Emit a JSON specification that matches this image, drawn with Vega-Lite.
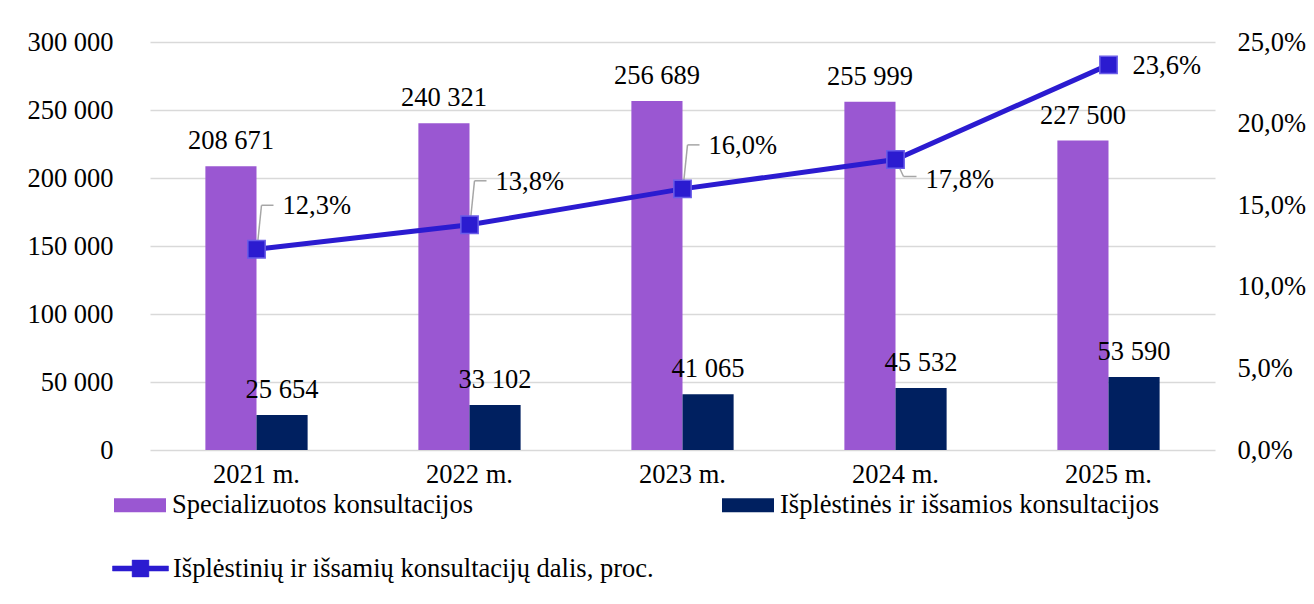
{
  "$schema": "https://vega.github.io/schema/vega-lite/v6.json",
  "autosize": {"type": "none"},
  "width": 1065,
  "height": 408,
  "padding": {"left": 150, "top": 42, "right": 99, "bottom": 154},
  "background": "white",
  "config": {
    "font": "Liberation Serif",
    "view": {"stroke": null},
    "locale": {"number": {"decimal": ",", "thousands": " ", "grouping": [3], "currency": ["", ""]}},
    "axis": {"labelFont": "Liberation Serif", "labelFontSize": 26.5, "labelColor": "#000000", "domain": false, "ticks": false, "title": null},
    "legend": {"labelFont": "Liberation Serif", "labelFontSize": 26.5, "labelColor": "#000000", "title": null}
  },
  "datasets": {
    "bars": [
      {"year": "2021 m.", "series": "Specializuotos konsultacijos", "value": 208671},
      {"year": "2021 m.", "series": "Išplėstinės ir išsamios konsultacijos", "value": 25654},
      {"year": "2022 m.", "series": "Specializuotos konsultacijos", "value": 240321},
      {"year": "2022 m.", "series": "Išplėstinės ir išsamios konsultacijos", "value": 33102},
      {"year": "2023 m.", "series": "Specializuotos konsultacijos", "value": 256689},
      {"year": "2023 m.", "series": "Išplėstinės ir išsamios konsultacijos", "value": 41065},
      {"year": "2024 m.", "series": "Specializuotos konsultacijos", "value": 255999},
      {"year": "2024 m.", "series": "Išplėstinės ir išsamios konsultacijos", "value": 45532},
      {"year": "2025 m.", "series": "Specializuotos konsultacijos", "value": 227500},
      {"year": "2025 m.", "series": "Išplėstinės ir išsamios konsultacijos", "value": 53590}
    ],
    "share": [
      {"year": "2021 m.", "pct": 0.123},
      {"year": "2022 m.", "pct": 0.138},
      {"year": "2023 m.", "pct": 0.160},
      {"year": "2024 m.", "pct": 0.178},
      {"year": "2025 m.", "pct": 0.236}
    ]
  },
  "resolve": {"scale": {"y": "independent"}},
  "layer": [
    {
      "data": {"name": "bars"},
      "encoding": {
        "x": {"field": "year", "type": "nominal", "sort": null,
              "scale": {"paddingInner": 0.52, "paddingOuter": 0.26},
              "axis": {"labelAngle": 0, "labelPadding": 11, "grid": false}},
        "xOffset": {"field": "series", "type": "nominal",
                    "sort": ["Specializuotos konsultacijos", "Išplėstinės ir išsamios konsultacijos"],
                    "scale": {"paddingInner": 0, "paddingOuter": 0}},
        "y": {"field": "value", "type": "quantitative",
              "scale": {"domain": [0, 300000], "nice": false},
              "axis": {"values": [0, 50000, 100000, 150000, 200000, 250000, 300000], "format": ",.0f",
                       "grid": true, "gridColor": "#d9d9d9", "gridWidth": 1.3, "labelPadding": 37, "orient": "left"}}
      },
      "layer": [
        {
          "mark": {"type": "bar"},
          "encoding": {
            "fill": {"field": "series", "type": "nominal",
                     "sort": ["Specializuotos konsultacijos", "Išplėstinės ir išsamios konsultacijos"],
                     "scale": {"domain": ["Specializuotos konsultacijos", "Išplėstinės ir išsamios konsultacijos"], "range": ["#9A57D2", "#002060"]},
                     "legend": {"orient": "none", "legendX": -36, "legendY": 437, "direction": "horizontal", "columns": 2,
                                "columnPadding": 248, "symbolType": "M-1,-0.27H1V0.27H-1Z", "symbolSize": 2704,
                                "symbolStrokeWidth": 0, "labelOffset": 6, "labelLimit": 700}}
          }
        },
        {
          "mark": {"type": "text", "baseline": "alphabetic", "dy": -17, "fontSize": 26.5, "font": "Liberation Serif", "color": "#000000"},
          "encoding": {
            "text": {"field": "value", "type": "quantitative", "format": ",.0f"}
          }
        }
      ]
    },
    {
      "data": {"name": "share"},
      "encoding": {
        "x": {"field": "year", "type": "nominal", "sort": null},
        "y": {"field": "pct", "type": "quantitative",
              "scale": {"domain": [0, 0.25], "nice": false},
              "axis": {"orient": "right", "values": [0, 0.05, 0.1, 0.15, 0.2, 0.25], "format": ".1%", "grid": false, "labelPadding": 22}}
      },
      "layer": [
        {
          "transform": [{"filter": {"field": "year", "oneOf": ["2021 m.", "2022 m.", "2023 m."]}}],
          "mark": {"type": "rule", "color": "#a6a6a6", "strokeWidth": 1.5, "xOffset": 1, "yOffset": -5, "x2Offset": 5, "y2Offset": -44},
          "encoding": {"x2": {"field": "year"}, "y2": {"field": "pct"}}
        },
        {
          "transform": [{"filter": {"field": "year", "oneOf": ["2021 m.", "2022 m.", "2023 m."]}}],
          "mark": {"type": "rule", "color": "#a6a6a6", "strokeWidth": 1.5, "xOffset": 5, "yOffset": -44, "x2Offset": 17, "y2Offset": -44},
          "encoding": {"x2": {"field": "year"}, "y2": {"field": "pct"}}
        },
        {
          "transform": [{"filter": {"field": "year", "equal": "2024 m."}}],
          "mark": {"type": "rule", "color": "#a6a6a6", "strokeWidth": 1.5, "xOffset": 2, "yOffset": 4, "x2Offset": 8, "y2Offset": 17},
          "encoding": {"x2": {"field": "year"}, "y2": {"field": "pct"}}
        },
        {
          "transform": [{"filter": {"field": "year", "equal": "2024 m."}}],
          "mark": {"type": "rule", "color": "#a6a6a6", "strokeWidth": 1.5, "xOffset": 8, "yOffset": 17, "x2Offset": 21, "y2Offset": 17},
          "encoding": {"x2": {"field": "year"}, "y2": {"field": "pct"}}
        },
        {
          "mark": {"type": "line", "strokeWidth": 5},
          "encoding": {
            "stroke": {"datum": "Išplėstinių ir išsamių konsultacijų dalis, proc.",
                       "scale": {"range": ["#2B1BD0"]},
                       "legend": {"orient": "none", "legendX": -38, "legendY": 498,
                                  "symbolType": "M-1,-0.09H-0.3V-0.3H0.3V-0.09H1V0.09H0.3V0.3H-0.3V0.09H-1Z",
                                  "symbolSize": 3136, "symbolFillColor": "#2B1BD0", "symbolStrokeColor": "#2B1BD0", "symbolStrokeWidth": 0.5,
                                  "labelOffset": 4, "labelLimit": 800}}
          }
        },
        {
          "mark": {"type": "point", "shape": "square", "filled": true, "size": 300, "fill": "#2B1BD0", "stroke": "#6A5CE8", "strokeWidth": 1.5, "opacity": 1},
          "encoding": {}
        },
        {
          "transform": [{"filter": {"field": "year", "oneOf": ["2021 m.", "2022 m.", "2023 m."]}}],
          "mark": {"type": "text", "align": "left", "baseline": "middle", "dx": 26, "dy": -43, "fontSize": 26.5, "font": "Liberation Serif", "color": "#000000"},
          "encoding": {"text": {"field": "pct", "type": "quantitative", "format": ".1%"}}
        },
        {
          "transform": [{"filter": {"field": "year", "equal": "2024 m."}}],
          "mark": {"type": "text", "align": "left", "baseline": "middle", "dx": 30, "dy": 20, "fontSize": 26.5, "font": "Liberation Serif", "color": "#000000"},
          "encoding": {"text": {"field": "pct", "type": "quantitative", "format": ".1%"}}
        },
        {
          "transform": [{"filter": {"field": "year", "equal": "2025 m."}}],
          "mark": {"type": "text", "align": "left", "baseline": "middle", "dx": 24, "dy": 1, "fontSize": 26.5, "font": "Liberation Serif", "color": "#000000"},
          "encoding": {"text": {"field": "pct", "type": "quantitative", "format": ".1%"}}
        }
      ]
    }
  ]
}
